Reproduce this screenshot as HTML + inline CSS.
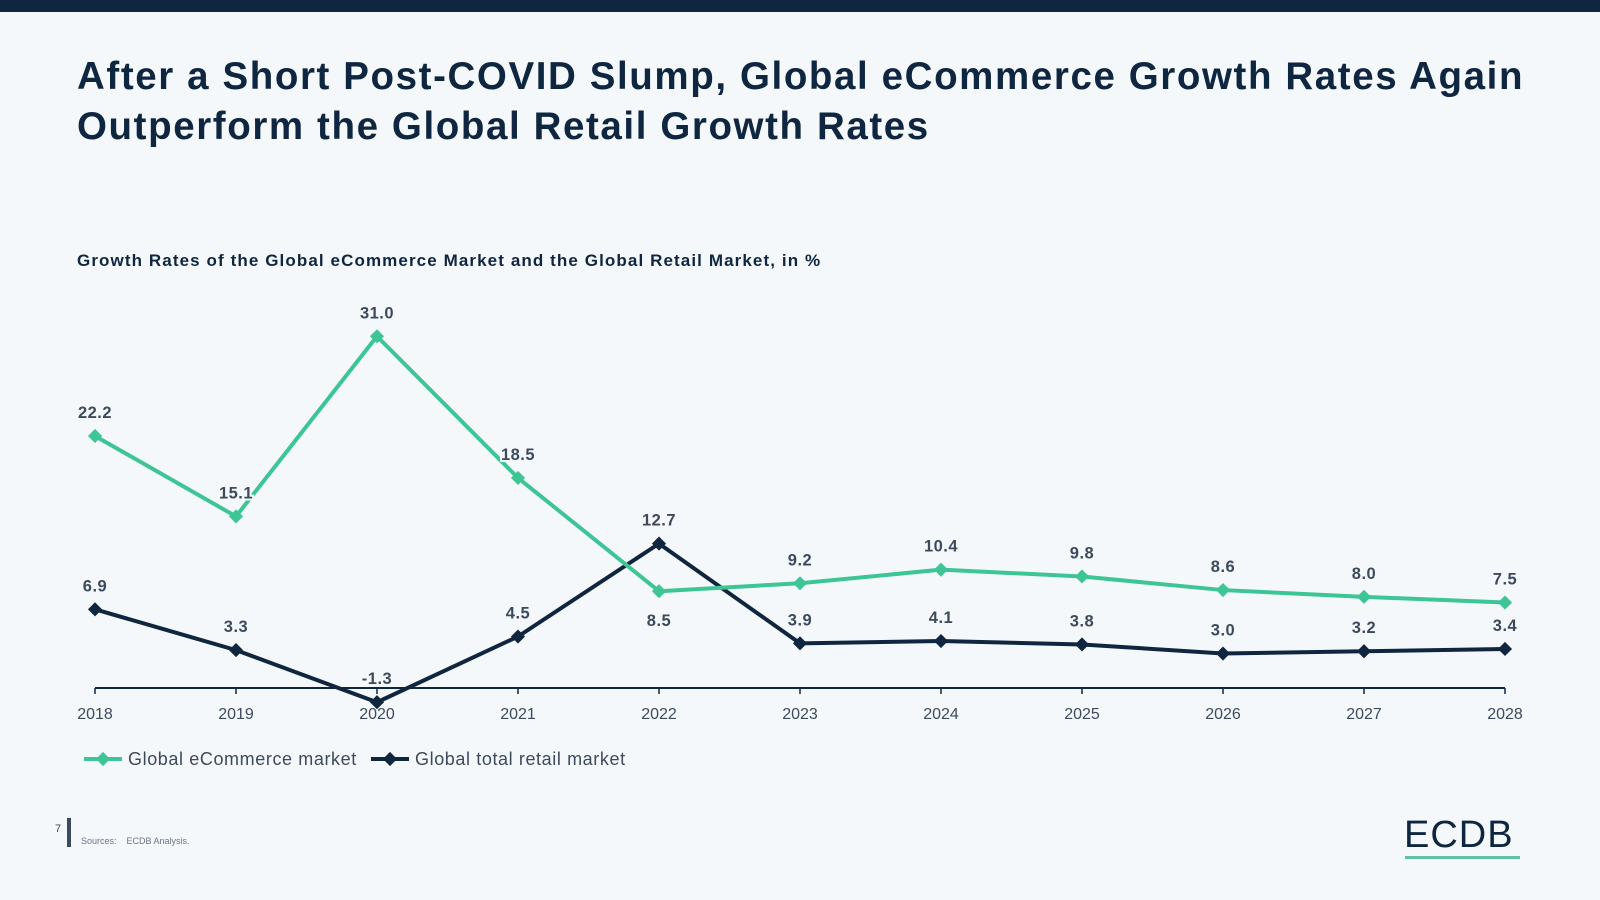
<!DOCTYPE html>
<html><head><meta charset="utf-8"><style>
body{margin:0;width:1600px;height:900px;background:#f4f8fb;font-family:"Liberation Sans",sans-serif;overflow:hidden;position:relative}
.top{position:absolute;left:0;top:0;width:1600px;height:12px;background:#0f2640}
h1{position:absolute;left:77px;top:52px;margin:0;font-size:38.5px;line-height:50px;color:#0f2640;font-weight:bold;letter-spacing:1.6px}
.sub{position:absolute;left:77px;top:251px;font-size:17px;font-weight:bold;color:#0f2640;letter-spacing:1.1px}
</style></head><body>
<div class="top"></div>
<h1>After a Short Post-COVID Slump, Global eCommerce Growth Rates Again<br>Outperform the Global Retail Growth Rates</h1>
<div class="sub">Growth Rates of the Global eCommerce Market and the Global Retail Market, in %</div>
<svg id="c" width="1600" height="900" style="position:absolute;left:0;top:0"></svg>
<div style="position:absolute;left:55px;top:823px;font-size:11px;color:#3d4a5c">7</div>
<div style="position:absolute;left:67px;top:818px;width:4px;height:29px;background:#3d4a5c"></div>
<div style="position:absolute;left:81px;top:836px;font-size:9px;color:#6a7585">Sources:&nbsp;&nbsp;&nbsp; ECDB Analysis.</div>
<div style="position:absolute;left:1404px;top:814px;font-size:38px;color:#0f2640;letter-spacing:1px">ECDB</div>
<div style="position:absolute;left:1405px;top:856px;width:115px;height:3px;background:#62c0a4"></div>
<script>
const years=["2018","2019","2020","2021","2022","2023","2024","2025","2026","2027","2028"];
const ecom=[22.2,15.1,31.0,18.5,8.5,9.2,10.4,9.8,8.6,8.0,7.5];
const retail=[6.9,3.3,-1.3,4.5,12.7,3.9,4.1,3.8,3.0,3.2,3.4];
const svg=document.getElementById('c'),NS='http://www.w3.org/2000/svg';
const x=i=>95+i*(1505-95)/(years.length-1);
const y=v=>687.5-v*11.33;
function mk(t,a,p){const e=document.createElementNS(NS,t);for(const k in a)e.setAttribute(k,a[k]);(p||svg).appendChild(e);return e;}
const ax=mk('line',{x1:95,x2:1505,y1:688,y2:688,stroke:'#0f2640','stroke-width':2});


years.forEach((yr,i)=>{
 const tk=mk('line',{x1:x(i),x2:x(i),y1:688,y2:694,stroke:'#0f2640','stroke-width':1.5});
 
 
 const t=mk('text',{x:x(i),y:719,'text-anchor':'middle','font-size':16,fill:'#3d4a5c'});t.textContent=yr;
 
 
});
function series(data,col,name,below){
 const pl=mk('polyline',{points:data.map((v,i)=>x(i)+','+y(v)).join(' '),fill:'none',stroke:col,'stroke-width':4,'stroke-linejoin':'round'});
 
 
 data.forEach((v,i)=>{
  const m=mk('rect',{x:x(i)-5,y:y(v)-5,width:10,height:10,fill:col,transform:`rotate(45 ${x(i)} ${y(v)})`});
  
  
  const b=below(i);
  const t=mk('text',{x:x(i),y:b?y(v)+35:y(v)-18,'text-anchor':'middle','font-size':16.5,'font-weight':'bold',fill:'#3d4a5c',stroke:'#f4f8fb','stroke-width':4,'paint-order':'stroke','letter-spacing':0.5});
  t.textContent=v.toFixed(1);
  
  
 });
}
series(retail,'#10263f','retail',()=>false);
series(ecom,'#3ec595','ecommerce',i=>ecom[i]<retail[i]);
function leg(lx,col,label,name){
 const g=mk('g',{});
 
 
 mk('line',{x1:lx,x2:lx+38,y1:759,y2:759,stroke:col,'stroke-width':4},g);
 mk('rect',{x:lx+14,y:754,width:10,height:10,fill:col,transform:`rotate(45 ${lx+19} 759)`},g);
 const t=mk('text',{x:lx+44,y:765,'font-size':18,fill:'#3d4a5c','letter-spacing':0.6},g);t.textContent=label;
}
leg(84,'#3ec595','Global eCommerce market','legend-ecommerce');
leg(371,'#10263f','Global total retail market','legend-retail');
</script>
</body></html>
